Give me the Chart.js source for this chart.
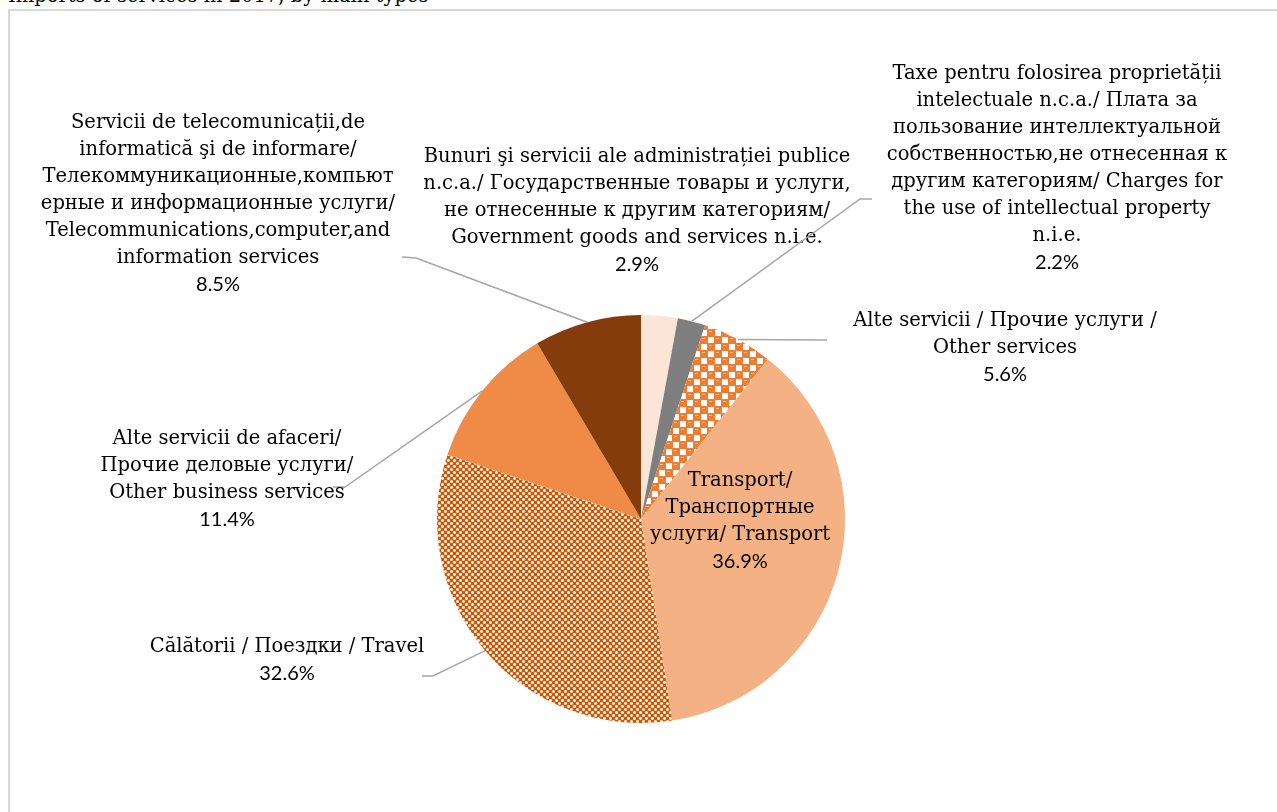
<!DOCTYPE html>
<html>
<head>
<meta charset="utf-8">
<script src="https://cdn.jsdelivr.net/npm/chart.js@4.4.1/dist/chart.umd.min.js"></script>
<style>
  body { margin: 0; background: #fff; overflow: hidden; }
  #title { position: absolute; left: 8px; top: -16px; font: 19.5px "DejaVu Serif", serif; color: #000; white-space: nowrap; }
  #frame { position: absolute; left: 8px; top: 9px; width: 1400px; height: 900px; border: 2px solid #d9d9d9; }
  #c { position: absolute; left: 0; top: 0; }
</style>
</head>
<body>
<div id="title">Imports of services in 2017, by main types</div>
<div id="frame"></div>
<canvas id="c" width="1277" height="812"></canvas>
<script>
// slices, clockwise from 12 o'clock
var categories = [
    ['Bunuri şi servicii ale administrației publice', 'n.c.a./ Государственные товары и услуги,', 'не отнесенные к другим категориям/', 'Government goods and services n.i.e.'],
    ['Taxe pentru folosirea proprietății', 'intelectuale n.c.a./ Плата за', 'пользование интеллектуальной', 'собственностью,не отнесенная к', 'другим категориям/ Charges for', 'the use of intellectual property', 'n.i.e.'],
    ['Alte servicii / Прочие услуги /', 'Other services'],
    ['Transport/', 'Транспортные', 'услуги/ Transport'],
    ['Călătorii / Поездки / Travel'],
    ['Alte servicii de afaceri/', 'Прочие деловые услуги/', 'Other business services'],
    ['Servicii de telecomunicații,de', 'informatică şi de informare/', 'Телекоммуникационные,компьют', 'ерные и информационные услуги/', 'Telecommunications,computer,and', 'information services']
]
var shares = [2.9, 2.2, 5.6, 36.9, 32.6, 11.4, 8.5]

// label placement: text centre x, first line y, leader line start points
var labelLayout = [
    { x: 637, y: 157, line: null },
    { x: 1057, y: 74, line: [[872, 199], [860, 199]] },
    { x: 1005, y: 321, line: [[827, 340]] },
    { x: 740, y: 481, line: null },
    { x: 287, y: 647, line: [[422, 676], [433, 676]] },
    { x: 227, y: 439, line: [[333, 487], [345, 487]] },
    { x: 218, y: 123, line: [[402, 257], [416, 258]] }
]

function checkerPattern() {
    var t = document.createElement('canvas')
    t.width = 14; t.height = 14
    var g = t.getContext('2d')
    g.fillStyle = '#ffffff'
    g.fillRect(0, 0, 14, 14)
    g.fillStyle = '#ed7d31'
    g.fillRect(0, 0, 8, 8)
    g.fillRect(7, 7, 7, 7)
    g.fillRect(0, 7, 1, 7)
    g.fillRect(7, 0, 7, 1)
    g.fillStyle = '#f6b98f'
    g.fillRect(2, 2, 3, 1)
    g.fillRect(9, 9, 3, 1)
    return g.createPattern(t, 'repeat')
}

function dotPattern() {
    var t = document.createElement('canvas')
    t.width = 6; t.height = 6
    var g = t.getContext('2d')
    g.fillStyle = '#c55a11'
    g.fillRect(0, 0, 6, 6)
    g.fillStyle = '#e8a576'
    g.fillRect(0, 0, 3, 3)
    g.fillRect(3, 3, 3, 3)
    g.fillStyle = '#ffffff'
    g.fillRect(1, 1, 1, 1)
    g.fillRect(0, 1, 3, 1)
    g.fillRect(1, 0, 1, 3)
    g.fillRect(4, 3, 1, 3)
    g.fillRect(3, 4, 3, 1)
    return g.createPattern(t, 'repeat')
}

var colors = ['#fbe5d6', '#7f7f7f', checkerPattern(), '#f4b183', dotPattern(), '#ef8b47', '#843c0c']

var labelPlugin = {
    id: 'pieLabels',
    afterDatasetsDraw: function (chart) {
        var ctx = chart.ctx
        var meta = chart.getDatasetMeta(0)
        var lh = 27
        ctx.save()
        meta.data.forEach(function (arc, i) {
            var p = arc.getProps(['x', 'y', 'startAngle', 'endAngle', 'outerRadius'], true)
            var mid = (p.startAngle + p.endAngle) / 2
            var ex = p.x + Math.cos(mid) * p.outerRadius
            var ey = p.y + Math.sin(mid) * p.outerRadius
            var lay = labelLayout[i]
            if (lay.line) {
                ctx.strokeStyle = '#a6a6a6'
                ctx.lineWidth = 1.5
                ctx.beginPath()
                ctx.moveTo(lay.line[0][0], lay.line[0][1])
                for (var k = 1; k < lay.line.length; k++) ctx.lineTo(lay.line[k][0], lay.line[k][1])
                ctx.lineTo(ex, ey)
                ctx.stroke()
            }
            ctx.fillStyle = '#000'
            ctx.textAlign = 'center'
            ctx.textBaseline = 'middle'
            ctx.font = '19.5px "DejaVu Serif"'
            var lines = categories[i]
            lines.forEach(function (t, j) {
                ctx.fillText(t, lay.x, lay.y + j * lh)
            })
            ctx.font = '20px Lato'
            ctx.fillText(shares[i].toFixed(1) + '%', lay.x, lay.y + lines.length * lh)
        })
        ctx.restore()
    }
}

new Chart(document.getElementById('c'), {
    type: 'pie',
    data: {
        labels: categories.map(function (c) { return c.join(' ') }),
        datasets: [{
            data: shares,
            backgroundColor: colors,
            borderWidth: 0
        }]
    },
    options: {
        responsive: false,
        animation: false,
        layout: { padding: { left: 437, right: 432, top: 315, bottom: 89 } },
        plugins: {
            legend: { display: false },
            tooltip: { enabled: false }
        }
    },
    plugins: [labelPlugin]
})
</script>
</body>
</html>
